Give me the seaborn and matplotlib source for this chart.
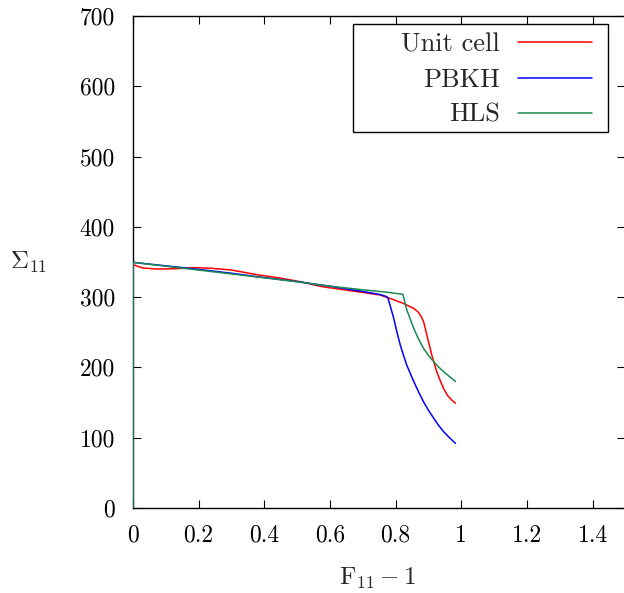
import numpy as np
import pandas as pd
import matplotlib
matplotlib.use("Agg")
import matplotlib.pyplot as plt
from matplotlib.patches import Rectangle
import seaborn as sns

# Stress-strain responses: F11 - 1 versus Sigma11
unit_x = [0.0, 0.0, 0.01, 0.03, 0.072, 0.13, 0.19, 0.24, 0.3, 0.372, 0.45, 0.509, 0.575,
          0.65, 0.71, 0.753, 0.79, 0.824, 0.855, 0.868, 0.877, 0.885, 0.89, 0.895,
          0.903, 0.91, 0.918, 0.925, 0.935, 0.946, 0.958, 0.97, 0.982]
unit_y = [0.0, 346.5, 344.5, 341.5, 340, 340.5, 342, 341, 338.6, 332.4, 327, 322, 315,
          310, 306, 303, 297, 291, 284, 279, 273, 265, 256, 246,
          231, 217.6, 205, 194, 182, 170, 160, 154, 149]

pbkh_x = [0.0, 0.0, 0.1, 0.2, 0.3, 0.38, 0.5, 0.6, 0.7, 0.75, 0.768, 0.776,
          0.785, 0.794, 0.804, 0.814, 0.824, 0.834, 0.845, 0.855, 0.87, 0.885,
          0.9, 0.916, 0.93, 0.946, 0.964, 0.982]
pbkh_y = [0.0, 349.5, 344.5, 339.5, 334, 329, 322, 315.5, 308, 304, 301.5, 299.5,
          285, 270, 250, 232, 217, 203, 191, 180, 165, 151,
          139, 127.6, 118, 108.6, 100, 92]

hls_x = [0.0, 0.0, 0.1, 0.2, 0.3, 0.4, 0.5, 0.575, 0.65, 0.72, 0.778, 0.822,
         0.828, 0.834, 0.845, 0.855, 0.87, 0.885, 0.9, 0.916, 0.93, 0.946, 0.964, 0.982]
hls_y = [0.0, 349.5, 344, 338.5, 333, 327.5, 322, 317, 313, 309.5, 306.8, 304,
         293, 281.6, 268, 255.6, 240, 227, 217, 208, 201, 194, 187, 180]

series_names = ["Unit cell", "PBKH", "HLS"]
series_colors = ["#ff0000", "#0000ff", "#1b8a50"]

data = pd.concat(
    [pd.DataFrame({"strain": xs, "stress": ys, "model": name})
     for name, xs, ys in zip(series_names, [unit_x, pbkh_x, hls_x],
                             [unit_y, pbkh_y, hls_y])],
    ignore_index=True)

sns.set_theme(style="ticks")
plt.rcParams["font.family"] = ["serif"]
plt.rcParams["font.serif"] = ["cmr10", "DejaVu Serif"]
plt.rcParams["mathtext.fontset"] = "cm"
plt.rcParams["axes.formatter.use_mathtext"] = True

fig = plt.figure(figsize=(6.24, 5.93), dpi=100)
ax = fig.add_axes([133 / 624, 85 / 593, (625.5 - 133) / 624, (508 - 16) / 593])

for name, color in zip(series_names, series_colors):
    sub = data[data["model"] == name]
    sns.lineplot(data=sub, x="strain", y="stress", sort=False, estimator=None,
                 color=color, linewidth=1.1, ax=ax, label=name, zorder=3)

ax.set_xlim(0, 1.5)
ax.set_ylim(0, 700)
ax.set_xticks([0, 0.2, 0.4, 0.6, 0.8, 1.0, 1.2, 1.4])
ax.set_xticklabels(["0", "0.2", "0.4", "0.6", "0.8", "1", "1.2", "1.4"])
ax.set_yticks(range(0, 701, 100))
ax.set_yticklabels([str(v) for v in range(0, 701, 100)])
ax.tick_params(direction="in", length=6, width=0.8, top=True, right=True,
               labelsize=17, colors="black")
ax.tick_params(axis="x", pad=12)
ax.tick_params(axis="y", pad=13)
for s in ax.spines.values():
    s.set_color("black")
    s.set_linewidth(1.0)

ax.set_xlabel(r"$\mathrm{F}_{11}-1$", fontsize=18)
ax.xaxis.set_label_coords((378 - 133) / 492.5, -(578 - 508) / 492)
ax.xaxis.label.set_va("center")
ax.set_ylabel(r"$\Sigma_{11}$", fontsize=18, rotation=0)
ax.yaxis.set_label_coords((29 - 133) / 492.5, 0.5)
ax.yaxis.label.set_va("center")
ax.yaxis.label.set_ha("center")

# key: entries without their own frame, boxed by a plain rectangle
leg = ax.legend(loc="upper right", bbox_to_anchor=((592 - 133) / 492.5, (508 - 33) / 492),
                markerfirst=False, fontsize=19, frameon=False,
                handlelength=2.8, borderpad=0.0,
                labelspacing=0.43, handletextpad=0.68, borderaxespad=0)
for t in leg.get_texts():
    t.set_ha("right")
key_box = Rectangle(((353 - 133) / 492.5, (508 - 132) / 492),
                    (608 - 353) / 492.5, (132 - 24) / 492,
                    transform=ax.transAxes, fill=True, facecolor="white",
                    edgecolor="black", linewidth=1.0, zorder=4)
ax.add_patch(key_box)
leg.set_zorder(5)

fig.savefig("out.png", dpi=100)
